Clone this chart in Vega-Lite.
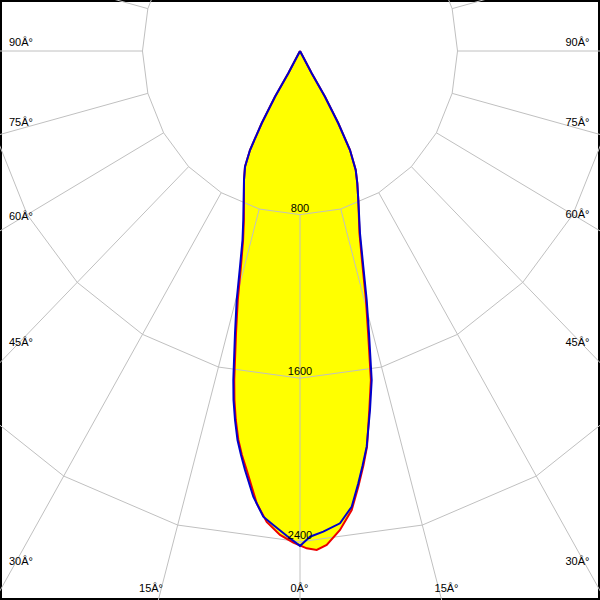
{
  "$schema": "https://vega.github.io/schema/vega-lite/v6.json",
  "autosize": {"type": "fit", "contains": "padding"},
  "width": 600,
  "height": 600,
  "padding": 0,
  "background": "white",
  "config": {"view": {"stroke": "black", "strokeWidth": 4}},
  "datasets": {
    "rings": [
      {"r":800,"i":0,"x":0,"y":800},{"r":800,"i":1,"x":207.1,"y":772.7},{"r":800,"i":2,"x":400,"y":692.8},{"r":800,"i":3,"x":565.7,"y":565.7},{"r":800,"i":4,"x":692.8,"y":400},{"r":800,"i":5,"x":772.7,"y":207.1},{"r":800,"i":6,"x":800,"y":0},{"r":800,"i":7,"x":772.7,"y":-207.1},{"r":800,"i":8,"x":692.8,"y":-400},{"r":800,"i":9,"x":565.7,"y":-565.7},{"r":800,"i":10,"x":400,"y":-692.8},{"r":800,"i":11,"x":207.1,"y":-772.7},{"r":800,"i":12,"x":0,"y":-800},{"r":800,"i":13,"x":-207.1,"y":-772.7},{"r":800,"i":14,"x":-400,"y":-692.8},{"r":800,"i":15,"x":-565.7,"y":-565.7},{"r":800,"i":16,"x":-692.8,"y":-400},{"r":800,"i":17,"x":-772.7,"y":-207.1},{"r":800,"i":18,"x":-800,"y":0},{"r":800,"i":19,"x":-772.7,"y":207.1},{"r":800,"i":20,"x":-692.8,"y":400},{"r":800,"i":21,"x":-565.7,"y":565.7},{"r":800,"i":22,"x":-400,"y":692.8},{"r":800,"i":23,"x":-207.1,"y":772.7},{"r":800,"i":24,"x":0,"y":800},
      {"r":1600,"i":0,"x":0,"y":1600},{"r":1600,"i":1,"x":414.1,"y":1545.5},{"r":1600,"i":2,"x":800,"y":1385.6},{"r":1600,"i":3,"x":1131.4,"y":1131.4},{"r":1600,"i":4,"x":1385.6,"y":800},{"r":1600,"i":5,"x":1545.5,"y":414.1},{"r":1600,"i":6,"x":1600,"y":0},{"r":1600,"i":7,"x":1545.5,"y":-414.1},{"r":1600,"i":8,"x":1385.6,"y":-800},{"r":1600,"i":9,"x":1131.4,"y":-1131.4},{"r":1600,"i":10,"x":800,"y":-1385.6},{"r":1600,"i":11,"x":414.1,"y":-1545.5},{"r":1600,"i":12,"x":0,"y":-1600},{"r":1600,"i":13,"x":-414.1,"y":-1545.5},{"r":1600,"i":14,"x":-800,"y":-1385.6},{"r":1600,"i":15,"x":-1131.4,"y":-1131.4},{"r":1600,"i":16,"x":-1385.6,"y":-800},{"r":1600,"i":17,"x":-1545.5,"y":-414.1},{"r":1600,"i":18,"x":-1600,"y":0},{"r":1600,"i":19,"x":-1545.5,"y":414.1},{"r":1600,"i":20,"x":-1385.6,"y":800},{"r":1600,"i":21,"x":-1131.4,"y":1131.4},{"r":1600,"i":22,"x":-800,"y":1385.6},{"r":1600,"i":23,"x":-414.1,"y":1545.5},{"r":1600,"i":24,"x":0,"y":1600},
      {"r":2400,"i":0,"x":0,"y":2400},{"r":2400,"i":1,"x":621.2,"y":2318.2},{"r":2400,"i":2,"x":1200,"y":2078.5},{"r":2400,"i":3,"x":1697.1,"y":1697.1},{"r":2400,"i":4,"x":2078.5,"y":1200},{"r":2400,"i":5,"x":2318.2,"y":621.2},{"r":2400,"i":6,"x":2400,"y":0},{"r":2400,"i":7,"x":2318.2,"y":-621.2},{"r":2400,"i":8,"x":2078.5,"y":-1200},{"r":2400,"i":9,"x":1697.1,"y":-1697.1},{"r":2400,"i":10,"x":1200,"y":-2078.5},{"r":2400,"i":11,"x":621.2,"y":-2318.2},{"r":2400,"i":12,"x":0,"y":-2400},{"r":2400,"i":13,"x":-621.2,"y":-2318.2},{"r":2400,"i":14,"x":-1200,"y":-2078.5},{"r":2400,"i":15,"x":-1697.1,"y":-1697.1},{"r":2400,"i":16,"x":-2078.5,"y":-1200},{"r":2400,"i":17,"x":-2318.2,"y":-621.2},{"r":2400,"i":18,"x":-2400,"y":0},{"r":2400,"i":19,"x":-2318.2,"y":621.2},{"r":2400,"i":20,"x":-2078.5,"y":1200},{"r":2400,"i":21,"x":-1697.1,"y":1697.1},{"r":2400,"i":22,"x":-1200,"y":2078.5},{"r":2400,"i":23,"x":-621.2,"y":2318.2},{"r":2400,"i":24,"x":0,"y":2400}
    ],
    "spokes": [
      {"a":0,"x":0,"y":800,"x2":0,"y2":4000},
      {"a":15,"x":207.1,"y":772.7,"x2":1035.3,"y2":3863.7},
      {"a":30,"x":400,"y":692.8,"x2":2000,"y2":3464.1},
      {"a":45,"x":565.7,"y":565.7,"x2":2828.4,"y2":2828.4},
      {"a":60,"x":692.8,"y":400,"x2":3464.1,"y2":2000},
      {"a":75,"x":772.7,"y":207.1,"x2":3863.7,"y2":1035.3},
      {"a":90,"x":800,"y":0,"x2":4000,"y2":0},
      {"a":105,"x":772.7,"y":-207.1,"x2":3863.7,"y2":-1035.3},
      {"a":120,"x":692.8,"y":-400,"x2":3464.1,"y2":-2000},
      {"a":135,"x":565.7,"y":-565.7,"x2":2828.4,"y2":-2828.4},
      {"a":150,"x":400,"y":-692.8,"x2":2000,"y2":-3464.1},
      {"a":165,"x":207.1,"y":-772.7,"x2":1035.3,"y2":-3863.7},
      {"a":180,"x":0,"y":-800,"x2":0,"y2":-4000},
      {"a":195,"x":-207.1,"y":-772.7,"x2":-1035.3,"y2":-3863.7},
      {"a":210,"x":-400,"y":-692.8,"x2":-2000,"y2":-3464.1},
      {"a":225,"x":-565.7,"y":-565.7,"x2":-2828.4,"y2":-2828.4},
      {"a":240,"x":-692.8,"y":-400,"x2":-3464.1,"y2":-2000},
      {"a":255,"x":-772.7,"y":-207.1,"x2":-3863.7,"y2":-1035.3},
      {"a":270,"x":-800,"y":0,"x2":-4000,"y2":0},
      {"a":285,"x":-772.7,"y":207.1,"x2":-3863.7,"y2":1035.3},
      {"a":300,"x":-692.8,"y":400,"x2":-3464.1,"y2":2000},
      {"a":315,"x":-565.7,"y":565.7,"x2":-2828.4,"y2":2828.4},
      {"a":330,"x":-400,"y":692.8,"x2":-2000,"y2":3464.1},
      {"a":345,"x":-207.1,"y":772.7,"x2":-1035.3,"y2":3863.7}
    ],
    "curves": [
      {"s":"r","i":0,"x":0,"y":0},{"s":"r","i":1,"x":-59.4,"y":109},{"s":"r","i":2,"x":-127,"y":223.5},{"s":"r","i":3,"x":-194.5,"y":353.5},{"s":"r","i":4,"x":-253.9,"y":484.1},{"s":"r","i":5,"x":-279.3,"y":565.8},{"s":"r","i":6,"x":-284.4,"y":630.8},{"s":"r","i":7,"x":-285,"y":826.4},{"s":"r","i":8,"x":-289,"y":924.2},{"s":"r","i":9,"x":-300,"y":1054.8},{"s":"r","i":10,"x":-316,"y":1217.6},{"s":"r","i":11,"x":-325,"y":1380.4},{"s":"r","i":12,"x":-334,"y":1608.8},{"s":"r","i":13,"x":-333,"y":1706.6},{"s":"r","i":14,"x":-326,"y":1804.4},{"s":"r","i":15,"x":-313,"y":1902.2},{"s":"r","i":16,"x":-295,"y":1975.6},{"s":"r","i":17,"x":-270.7,"y":2048.9},{"s":"r","i":18,"x":-219.9,"y":2211.7},{"s":"r","i":19,"x":-169.1,"y":2303.2},{"s":"r","i":20,"x":-101.6,"y":2366.7},{"s":"r","i":21,"x":-34,"y":2403.4},{"s":"r","i":22,"x":34,"y":2431.8},{"s":"r","i":23,"x":84.8,"y":2440.1},{"s":"r","i":24,"x":135.6,"y":2415.6},{"s":"r","i":25,"x":203.1,"y":2342.3},{"s":"r","i":26,"x":262.6,"y":2244.5},{"s":"r","i":27,"x":296.1,"y":2130.6},{"s":"r","i":28,"x":322.5,"y":2024.4},{"s":"r","i":29,"x":340.3,"y":1934.9},{"s":"r","i":30,"x":352,"y":1755.5},{"s":"r","i":31,"x":360,"y":1608.8},{"s":"r","i":32,"x":346,"y":1380.4},{"s":"r","i":33,"x":335,"y":1217.6},{"s":"r","i":34,"x":318,"y":1054.8},{"s":"r","i":35,"x":302,"y":891.4},{"s":"r","i":36,"x":296.1,"y":728.6},{"s":"r","i":37,"x":291,"y":646.9},{"s":"r","i":38,"x":282.9,"y":581.9},{"s":"r","i":39,"x":253.9,"y":484.1},{"s":"r","i":40,"x":194.5,"y":353.5},{"s":"r","i":41,"x":127,"y":223.5},{"s":"r","i":42,"x":59.4,"y":109},{"s":"r","i":43,"x":0,"y":0},
      {"s":"b","i":0,"x":0,"y":0},{"s":"b","i":1,"x":-59.4,"y":109},{"s":"b","i":2,"x":-127,"y":223.5},{"s":"b","i":3,"x":-194.5,"y":353.5},{"s":"b","i":4,"x":-253.9,"y":484.1},{"s":"b","i":5,"x":-279.3,"y":565.8},{"s":"b","i":6,"x":-284.4,"y":630.8},{"s":"b","i":7,"x":-288,"y":826.4},{"s":"b","i":8,"x":-292,"y":924.2},{"s":"b","i":9,"x":-304.7,"y":1054.8},{"s":"b","i":10,"x":-321.5,"y":1217.6},{"s":"b","i":11,"x":-330.1,"y":1380.4},{"s":"b","i":12,"x":-338.7,"y":1608.8},{"s":"b","i":13,"x":-337.7,"y":1706.6},{"s":"b","i":14,"x":-330.1,"y":1804.4},{"s":"b","i":15,"x":-317.4,"y":1902.2},{"s":"b","i":16,"x":-299.6,"y":1975.6},{"s":"b","i":17,"x":-279.3,"y":2048.9},{"s":"b","i":18,"x":-237.2,"y":2179.5},{"s":"b","i":19,"x":-186.4,"y":2277.3},{"s":"b","i":20,"x":-135.6,"y":2317.8},{"s":"b","i":21,"x":-67.5,"y":2370.7},{"s":"b","i":22,"x":0,"y":2420},{"s":"b","i":23,"x":50.8,"y":2375.1},{"s":"b","i":24,"x":118.3,"y":2350.6},{"s":"b","i":25,"x":203.1,"y":2309.5},{"s":"b","i":26,"x":262.6,"y":2228.4},{"s":"b","i":27,"x":296.1,"y":2113.9},{"s":"b","i":28,"x":317.4,"y":2029.3},{"s":"b","i":29,"x":338.7,"y":1934.9},{"s":"b","i":30,"x":355.5,"y":1755.5},{"s":"b","i":31,"x":364.1,"y":1608.8},{"s":"b","i":32,"x":350.4,"y":1380.4},{"s":"b","i":33,"x":338.7,"y":1217.6},{"s":"b","i":34,"x":321.5,"y":1054.8},{"s":"b","i":35,"x":304.7,"y":891.4},{"s":"b","i":36,"x":296.1,"y":728.6},{"s":"b","i":37,"x":291,"y":646.9},{"s":"b","i":38,"x":282.9,"y":581.9},{"s":"b","i":39,"x":253.9,"y":484.1},{"s":"b","i":40,"x":194.5,"y":353.5},{"s":"b","i":41,"x":127,"y":223.5},{"s":"b","i":42,"x":59.4,"y":109},{"s":"b","i":43,"x":0,"y":0}
    ],
    "ringLabels": [
      {"label":"800","x":0,"y":800},
      {"label":"1600","x":0,"y":1600},
      {"label":"2400","x":0,"y":2400}
    ],
    "leftLabels": [
      {"label":"90Â°","x":-1478,"y":-24.4},
      {"label":"75Â°","x":-1478,"y":366.7},
      {"label":"60Â°","x":-1478,"y":824},
      {"label":"45Â°","x":-1478,"y":1442.5},
      {"label":"30Â°","x":-1478,"y":2513.4}
    ],
    "rightLabels": [
      {"label":"90Â°","x":1470,"y":-24.4},
      {"label":"75Â°","x":1470,"y":366.7},
      {"label":"60Â°","x":1470,"y":819},
      {"label":"45Â°","x":1470,"y":1442.5},
      {"label":"30Â°","x":1470,"y":2513.4}
    ],
    "bottomLabels": [
      {"label":"15Â°","x":-756.7,"y":2647.9},
      {"label":"0Â°","x":-2.5,"y":2647.9},
      {"label":"15Â°","x":744,"y":2647.9}
    ]
  },
  "encoding": {
    "x": {"field": "x", "type": "quantitative", "scale": {"domain": [-1523.6, 1523.6], "nice": false, "zero": false}, "axis": null},
    "y": {"field": "y", "type": "quantitative", "scale": {"domain": [-249.4, 2684.6], "nice": false, "zero": false, "reverse": true}, "axis": null}
  },
  "layer": [
    {
      "data": {"name": "curves"},
      "mark": {"type": "line", "fill": "#ffff00", "stroke": null, "strokeWidth": 0, "clip": true},
      "encoding": {"detail": {"field": "s"}, "order": {"field": "i", "type": "quantitative"}}
    },
    {
      "data": {"name": "rings"},
      "mark": {"type": "line", "stroke": "#c0c0c0", "strokeWidth": 1, "clip": true},
      "encoding": {"detail": {"field": "r"}, "order": {"field": "i", "type": "quantitative"}}
    },
    {
      "data": {"name": "spokes"},
      "mark": {"type": "rule", "stroke": "#c0c0c0", "strokeWidth": 1, "clip": true},
      "encoding": {"x2": {"field": "x2"}, "y2": {"field": "y2"}}
    },
    {
      "data": {"name": "curves"},
      "transform": [{"filter": "datum.s == 'r'"}],
      "mark": {"type": "line", "stroke": "#ee0000", "strokeWidth": 2, "clip": true},
      "encoding": {"order": {"field": "i", "type": "quantitative"}}
    },
    {
      "data": {"name": "curves"},
      "transform": [{"filter": "datum.s == 'b'"}],
      "mark": {"type": "line", "stroke": "#0000cc", "strokeWidth": 2, "clip": true},
      "encoding": {"order": {"field": "i", "type": "quantitative"}}
    },
    {
      "data": {"name": "ringLabels"},
      "mark": {"type": "text", "font": "Liberation Sans", "fontSize": 11, "color": "black", "align": "center", "baseline": "alphabetic", "dy": -3},
      "encoding": {"text": {"field": "label"}}
    },
    {
      "data": {"name": "leftLabels"},
      "mark": {"type": "text", "font": "Liberation Sans", "fontSize": 11, "color": "black", "align": "left", "baseline": "alphabetic"},
      "encoding": {"text": {"field": "label"}}
    },
    {
      "data": {"name": "rightLabels"},
      "mark": {"type": "text", "font": "Liberation Sans", "fontSize": 11, "color": "black", "align": "right", "baseline": "alphabetic"},
      "encoding": {"text": {"field": "label"}}
    },
    {
      "data": {"name": "bottomLabels"},
      "mark": {"type": "text", "font": "Liberation Sans", "fontSize": 11, "color": "black", "align": "center", "baseline": "alphabetic"},
      "encoding": {"text": {"field": "label"}}
    }
  ]
}
